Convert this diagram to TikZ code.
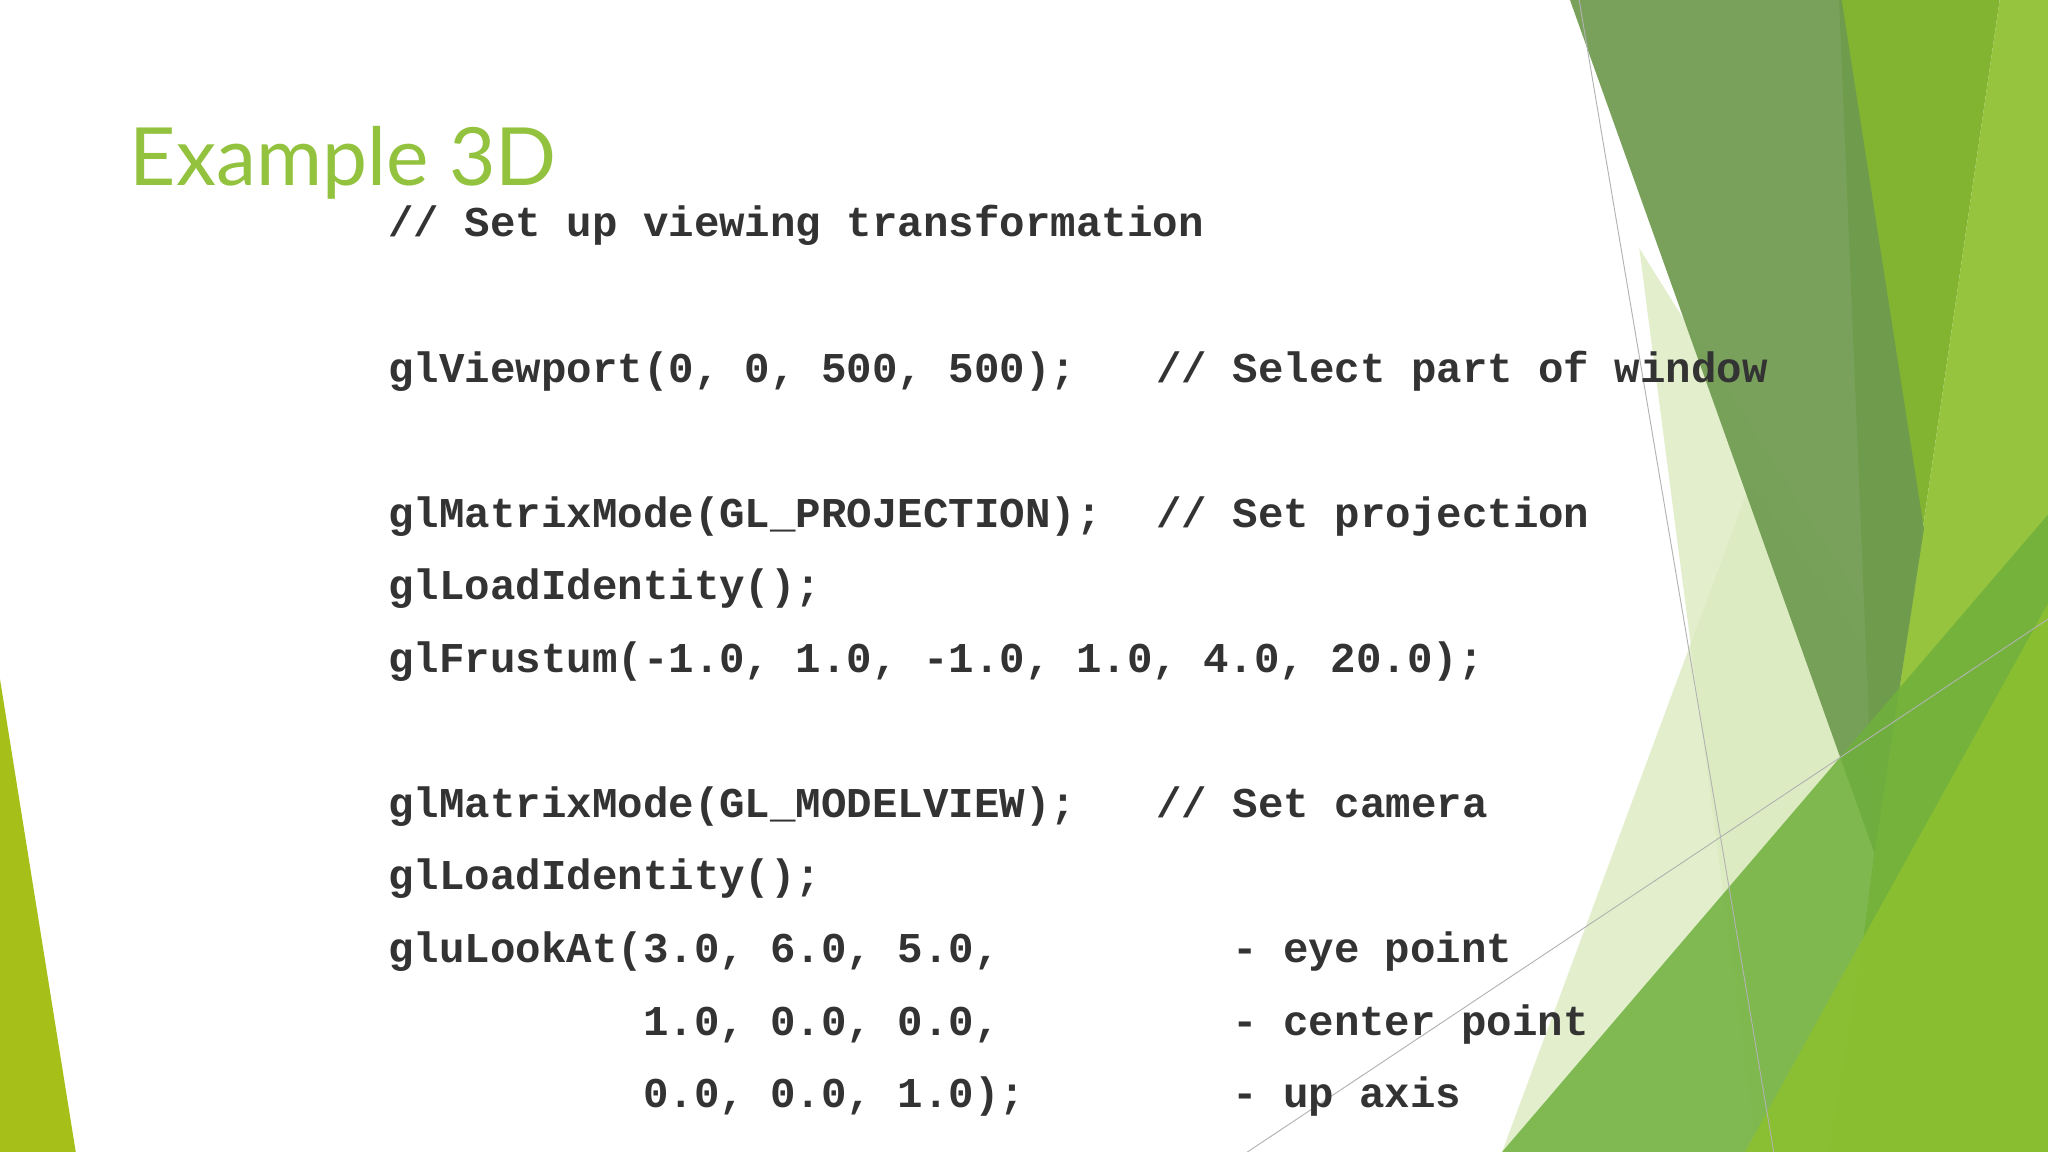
\documentclass[tikz,border=0pt]{standalone}
\usepackage{fontspec}
\setmainfont{Lato}
\setmonofont{Liberation Mono}
\begin{document}
\begin{tikzpicture}[x=0.02cm,y=-0.02cm,
  code/.style={anchor=base west,inner sep=0,font=\ttfamily\bfseries\fontsize{18.5}{20}\selectfont,text=black!80},
  thin/.style={draw=black!30,line width=0.4pt}]
\useasboundingbox (0,0) rectangle (1568,882);
\fill[white] (0,0) rectangle (1568,882);
% left decoration
\fill[green!50!black!30!lime!70!olive, fill=lime!45!olive!90] (0,520) -- (58,882) -- (0,882) -- cycle;
% right decorations
\definecolor{dkg}{HTML}{6E9A4F}
\definecolor{brg}{HTML}{82B432}
\definecolor{ltg}{HTML}{96C43E}
\definecolor{pale}{HTML}{DCEBC0}
\definecolor{medg}{HTML}{6FB03C}
\definecolor{yg}{HTML}{8DC030}
\fill[pale,opacity=0.8] (1255,190) -- (1500,580) -- (1440,882) -- (1345,882) -- cycle;
\fill[pale,opacity=0.8] (1340,370) -- (1500,600) -- (1400,882) -- (1150,882) -- cycle;
\fill[brg] (1408,0) -- (1531,0) -- (1427,715) -- (1435,653) -- cycle;
\fill[ltg] (1531,0) -- (1568,0) -- (1568,882) -- (1400,882) -- (1427,715) -- cycle;
\fill[dkg,opacity=0.92] (1202,0) -- (1410,0) -- (1473,405) -- (1435,653) -- cycle;
\fill[medg,opacity=0.85] (1150,882) -- (1568,394) -- (1568,882) -- cycle;
\fill[yg,opacity=0.9] (1336,882) -- (1568,462) -- (1568,882) -- cycle;
\coordinate (l1a) at (1209,0); \coordinate (l1b) at (1358,882);
\coordinate (l2a) at (955,882); \coordinate (l2b) at (1568,474);
\draw[thin] (l1a) -- (l1b);
\draw[thin] (l2a) -- (l2b);
% title
\node[anchor=base west,inner sep=0,text={rgb,255:red,146;green,194;blue,62},font=\fontsize{35}{40}\selectfont] (title) at (99,142) {Example 3D};
% code
\node[code] (c1) at (297,181) {// Set up viewing transformation};
\node[code] (c2) at (297,293) {glViewport(0, 0, 500, 500);};
\node[code] (c2c) at (885,293) {// Select part of window};
\node[code] (c3) at (297,404) {glMatrixMode(GL\_PROJECTION);};
\node[code] (c3c) at (885,404) {// Set projection};
\node[code] (c4) at (297,459) {glLoadIdentity();};
\node[code] (c5) at (297,515) {glFrustum(-1.0, 1.0, -1.0, 1.0, 4.0, 20.0);};
\node[code] (c6) at (297,626) {glMatrixMode(GL\_MODELVIEW);};
\node[code] (c6c) at (885,626) {// Set camera};
\node[code] (c7) at (297,681) {glLoadIdentity();};
\node[code] (c8) at (297,737) {gluLookAt(3.0, 6.0, 5.0,};
\node[code] (c8c) at (943,737) {- eye point};
\node[code] (c9) at (492,793) {1.0, 0.0, 0.0,};
\node[code] (c9c) at (943,793) {- center point};
\node[code] (c10) at (492,848) {0.0, 0.0, 1.0);};
\node[code] (c10c) at (943,848) {- up axis};
\end{tikzpicture}
\end{document}
